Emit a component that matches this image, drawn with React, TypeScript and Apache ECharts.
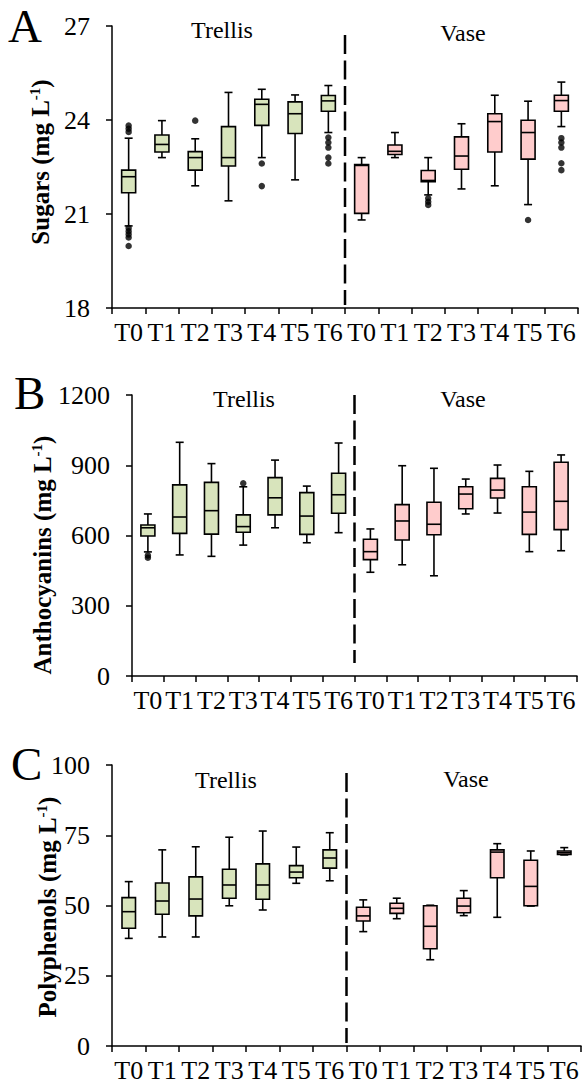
import React, { useEffect, useRef } from "react";
import * as echarts from "echarts";

const categories = ["T0", "T1", "T2", "T3", "T4", "T5", "T6", "T0", "T1", "T2", "T3", "T4", "T5", "T6"];
const groupLabels = ["Trellis", "Vase"];
const panelLetters = ["A", "B", "C"];

// [min, Q1, median, Q3, max]
const sugarsTrellis = [
  [20.62, 21.68, 22.19, 22.4, 23.42],
  [22.8, 22.98, 23.22, 23.52, 23.98],
  [21.9, 22.4, 22.8, 22.99, 23.4],
  [21.42, 22.53, 22.8, 23.79, 24.88],
  [22.8, 23.83, 24.5, 24.66, 24.98],
  [22.09, 23.57, 24.2, 24.58, 24.8],
  [23.6, 24.28, 24.61, 24.78, 25.1],
];
const sugarsVase = [
  [20.81, 21.02, 22.55, 22.58, 22.8],
  [22.8, 22.9, 23.0, 23.2, 23.6],
  [21.61, 22.03, 22.07, 22.39, 22.8],
  [21.8, 22.43, 22.85, 23.46, 23.88],
  [21.9, 22.98, 23.95, 24.2, 24.79],
  [21.3, 22.75, 23.6, 23.99, 24.6],
  [23.79, 24.28, 24.62, 24.79, 25.21],
];
const sugarsOutliers = [
  [0, 23.82], [0, 23.72], [0, 23.62], [0, 20.55], [0, 20.45], [0, 20.35], [0, 20.25], [0, 19.98],
  [2, 23.98],
  [4, 22.61], [4, 21.89],
  [6, 23.44], [6, 23.28], [6, 23.12], [6, 22.8], [6, 22.61],
  [9, 21.5], [9, 21.39], [9, 21.29],
  [12, 20.81],
  [13, 23.42], [13, 23.28], [13, 23.12], [13, 22.62], [13, 22.4],
];

const anthoTrellis = [
  [530, 598, 633, 645, 692],
  [517, 609, 679, 816, 998],
  [511, 606, 706, 827, 907],
  [559, 614, 638, 688, 808],
  [633, 688, 761, 847, 922],
  [569, 605, 683, 783, 811],
  [612, 695, 774, 866, 995],
];
const anthoVase = [
  [443, 497, 531, 584, 628],
  [475, 581, 662, 732, 898],
  [428, 603, 648, 742, 887],
  [692, 714, 777, 808, 841],
  [696, 760, 794, 844, 901],
  [531, 605, 700, 808, 874],
  [535, 625, 746, 913, 944],
];
const anthoOutliers = [[0, 515], [0, 505], [3, 823]];

const polyTrellis = [
  [38.3, 41.9, 47.8, 52.8, 58.5],
  [38.8, 46.9, 51.6, 58.0, 69.8],
  [38.8, 46.3, 52.3, 60.2, 70.9],
  [49.9, 52.6, 57.3, 62.9, 74.3],
  [48.4, 52.2, 57.3, 64.8, 76.5],
  [57.9, 59.9, 61.9, 64.2, 70.8],
  [58.8, 63.3, 66.9, 69.8, 75.9],
];
const polyVase = [
  [40.7, 44.5, 46.3, 49.4, 52.0],
  [45.3, 47.2, 49.0, 50.8, 52.6],
  [30.7, 34.6, 42.6, 49.9, 50.1],
  [46.4, 47.4, 49.8, 52.6, 55.3],
  [45.8, 59.9, 69.0, 69.8, 72.0],
  [49.8, 49.9, 56.8, 66.1, 69.4],
  [68.0, 68.2, 68.8, 69.4, 70.6],
];
const polyOutliers: number[][] = [];

const yTitles = ["Sugars (mg L", "Anthocyanins (mg L", "Polyphenols (mg L"];
const yRanges = [
  { min: 18, max: 27, interval: 3 },
  { min: 0, max: 1200, interval: 300 },
  { min: 0, max: 100, interval: 25 },
];

const FONT = "Liberation Serif, Times New Roman, serif";
const GREEN = "#d8e4bc";
const PINK = "#ffcccc";

export default function App() {
  const ref = useRef<HTMLDivElement>(null);
  useEffect(() => {
    document.body.style.margin = "0";
    const chart = echarts.init(ref.current!, null, { renderer: "svg" });

    const grids = [
      { left: 112, top: 26, width: 466, height: 282 },
      { left: 132, top: 395, width: 445, height: 281 },
      { left: 112, top: 765, width: 469, height: 281 },
    ];
    const boxWidths = [14, 14, 13.5];

    const makeRender = (boxW: number, capW: number, fill: string) => (params: any, api: any) => {
      const x = api.value(0);
      const lo = api.coord([x, api.value(1)]);
      const q1 = api.coord([x, api.value(2)]);
      const med = api.coord([x, api.value(3)]);
      const q3 = api.coord([x, api.value(4)]);
      const hi = api.coord([x, api.value(5)]);
      const cx = lo[0];
      const ls = { stroke: "#000", lineWidth: 1.6, fill: "none" };
      return {
        type: "group",
        children: [
          { type: "line", shape: { x1: cx, y1: hi[1], x2: cx, y2: q3[1] }, style: ls },
          { type: "line", shape: { x1: cx, y1: q1[1], x2: cx, y2: lo[1] }, style: ls },
          { type: "line", shape: { x1: cx - capW / 2, y1: hi[1], x2: cx + capW / 2, y2: hi[1] }, style: ls },
          { type: "line", shape: { x1: cx - capW / 2, y1: lo[1], x2: cx + capW / 2, y2: lo[1] }, style: ls },
          {
            type: "rect",
            shape: { x: cx - boxW / 2, y: q3[1], width: boxW, height: q1[1] - q3[1] },
            style: { fill, stroke: "#000", lineWidth: 1.6 },
          },
          { type: "line", shape: { x1: cx - boxW / 2, y1: med[1], x2: cx + boxW / 2, y2: med[1] }, style: ls },
        ],
      };
    };

    const panels = [
      { tr: sugarsTrellis, va: sugarsVase, out: sugarsOutliers },
      { tr: anthoTrellis, va: anthoVase, out: anthoOutliers },
      { tr: polyTrellis, va: polyVase, out: polyOutliers },
    ];

    const series: any[] = [];
    panels.forEach((p, i) => {
      series.push({
        type: "custom",
        xAxisIndex: i,
        yAxisIndex: i,
        renderItem: makeRender(boxWidths[i], 8, GREEN),
        encode: { x: 0, y: [1, 2, 3, 4, 5] },
        data: p.tr.map((d, k) => [k, ...d]),
        z: 3,
      });
      series.push({
        type: "custom",
        xAxisIndex: i,
        yAxisIndex: i,
        renderItem: makeRender(boxWidths[i], 8, PINK),
        encode: { x: 0, y: [1, 2, 3, 4, 5] },
        data: p.va.map((d, k) => [k + 7, ...d]),
        z: 3,
      });
      series.push({
        type: "scatter",
        xAxisIndex: i,
        yAxisIndex: i,
        symbol: "circle",
        symbolSize: 6.5,
        itemStyle: { color: "#000" },
        data: p.out,
        z: 4,
      });
    });

    const xAxis = grids.map((_, i) => ({
      type: "category",
      gridIndex: i,
      data: categories,
      boundaryGap: true,
      axisLine: { show: true, lineStyle: { color: "#000", width: 1.5 } },
      axisTick: { show: true, alignWithLabel: false, interval: 0, length: 6, lineStyle: { color: "#000", width: 1.5 } },
      axisLabel: { interval: 0, color: "#000", fontSize: 26, fontFamily: FONT, margin: 11 },
      splitLine: { show: false },
    }));
    const yAxis = grids.map((_, i) => ({
      type: "value",
      gridIndex: i,
      min: yRanges[i].min,
      max: yRanges[i].max,
      interval: yRanges[i].interval,
      axisLine: { show: true, lineStyle: { color: "#000", width: 1.5 } },
      axisTick: { show: true, length: 6, lineStyle: { color: "#000", width: 1.5 } },
      axisLabel: {
        color: "#000",
        fontSize: 26,
        fontFamily: FONT,
        margin: 22,
        formatter: (v: number) => String(v),
      },
      splitLine: { show: false },
    }));

    const graphic: any[] = [];
    const letterPos = [
      [8, 26],
      [14, 392.5],
      [11, 764],
    ];
    const groupPos = [
      [[222, 30], [463, 32.5]],
      [[244, 398.5], [463, 398.5]],
      [[226, 779.5], [466, 778.5]],
    ];
    const titlePos = [
      [40, 162],
      [42, 555],
      [47, 907],
    ];
    const dashY = [
      [35, 305],
      [395, 663],
      [773, 1043],
    ];
    grids.forEach((g, i) => {
      graphic.push({
        type: "text",
        x: letterPos[i][0],
        y: letterPos[i][1],
        style: { text: panelLetters[i], fontSize: 47, fontFamily: FONT, fill: "#000", align: "left", verticalAlign: "middle" },
      });
      groupLabels.forEach((lab, j) => {
        graphic.push({
          type: "text",
          x: groupPos[i][j][0],
          y: groupPos[i][j][1],
          style: { text: lab, fontSize: 24, fontFamily: FONT, fill: "#000", align: "center", verticalAlign: "middle" },
        });
      });
      graphic.push({
        type: "text",
        x: titlePos[i][0],
        y: titlePos[i][1],
        rotation: Math.PI / 2,
        style: {
          text: "{t|" + yTitles[i] + "}{s|-1}{t|)}",
          rich: {
            t: { fontSize: 25, fontWeight: "bold", fontFamily: FONT, fill: "#000", verticalAlign: "bottom" },
            s: { fontSize: 15, fontWeight: "bold", fontFamily: FONT, fill: "#000", verticalAlign: "top" },
          },
          align: "center",
          verticalAlign: "middle",
        },
      });
      const cx = g.left + g.width / 2;
      graphic.push({
        type: "line",
        shape: { x1: cx, y1: dashY[i][0], x2: cx, y2: dashY[i][1] },
        style: { stroke: "#000", lineWidth: 2.5, lineDash: [19, 6.5] },
      });
    });

    chart.setOption({
      animation: false,
      backgroundColor: "#fff",
      grid: grids.map((g) => ({ ...g, containLabel: false })),
      xAxis,
      yAxis,
      series,
      graphic,
    });
    return () => chart.dispose();
  }, []);
  return <div ref={ref} style={{ width: 582, height: 1088 }} />;
}
